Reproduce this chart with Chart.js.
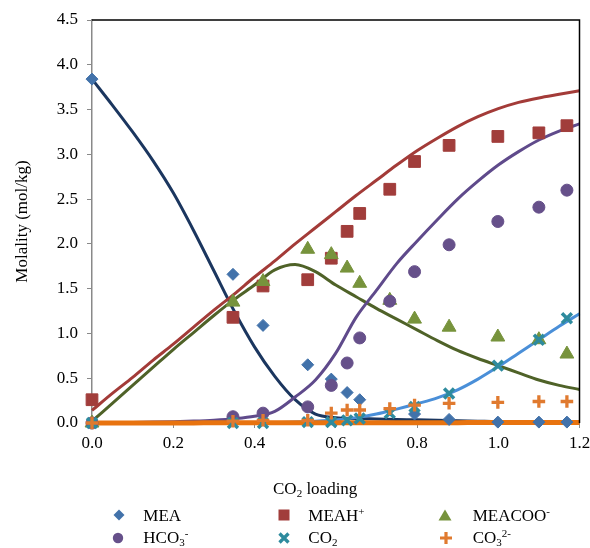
<!DOCTYPE html>
<html><head><meta charset="utf-8">
<script src="https://cdn.jsdelivr.net/npm/chart.js@4.4.0/dist/chart.umd.min.js"></script>
<style>
html,body{margin:0;padding:0;background:#fff;}
#wrap{position:relative;width:590px;height:548px;overflow:hidden;font-family:"Liberation Serif","Times New Roman",serif;color:#000;}
canvas{position:absolute;left:0;top:0;}
.t{position:absolute;font-size:17px;line-height:17px;white-space:nowrap;}
.t sub{font-size:11px;vertical-align:-3px;line-height:0;}
.t sup{font-size:11px;vertical-align:6px;line-height:0;}
.m{position:absolute;}
</style></head><body>
<div id="wrap"><canvas id="c" width="590" height="548"></canvas>
<div class="t" style="left:273px;top:479.8px">CO<sub>2</sub> loading</div>
<div id="legend"></div>
</div>
<script>
// ---- data ----
const loadingExp = [0, 0.347, 0.421, 0.531, 0.589, 0.628, 0.659, 0.733, 0.794, 0.879, 0.999, 1.100, 1.169];
const meaExp    = [3.84, 1.66, 1.09, 0.65, 0.49, 0.34, 0.26, null, 0.10, 0.04, 0.01, 0.01, 0.01];
const meahExp   = [0.26, 1.18, 1.53, 1.60, 1.84, 2.14, 2.34, 2.61, 2.92, 3.10, 3.20, 3.24, 3.32];
const meacooExp = [0.00, 1.35, 1.58, 1.94, 1.88, 1.73, 1.56, 1.37, 1.16, 1.07, 0.96, 0.93, 0.77];
const hco3Exp   = [0.00, 0.07, 0.11, 0.18, 0.42, 0.67, 0.95, 1.36, 1.69, 1.99, 2.25, 2.41, 2.60];
const co2Exp    = [0.00, 0.00, 0.00, 0.01, 0.01, 0.03, 0.05, 0.11, 0.18, 0.33, 0.64, 0.93, 1.17];
const co3Exp    = [0.00, 0.02, 0.03, 0.03, 0.11, 0.145, 0.145, 0.16, 0.20, 0.22, 0.23, 0.24, 0.24];

const loadingModel = [0,0.05,0.1,0.15,0.2,0.25,0.3,0.35,0.4,0.45,0.5,0.55,0.6,0.65,0.7,0.75,0.8,0.85,0.9,0.95,1.0,1.05,1.1,1.15,1.2];
const meaModel    = [3.84,3.55,3.25,2.93,2.57,2.15,1.70,1.25,0.85,0.52,0.26,0.10,0.06,0.05,0.045,0.04,0.035,0.03,0.025,0.02,0.015,0.012,0.01,0.007,0.005];
const meahModel   = [0.14,0.33,0.51,0.70,0.88,1.07,1.26,1.44,1.63,1.81,2.00,2.18,2.36,2.54,2.71,2.88,3.04,3.18,3.31,3.42,3.51,3.58,3.63,3.67,3.71];
const meacooModel = [0.02,0.22,0.42,0.62,0.82,1.01,1.20,1.38,1.54,1.71,1.77,1.69,1.54,1.41,1.28,1.16,1.04,0.92,0.81,0.72,0.64,0.56,0.48,0.42,0.375];
const hco3Model   = [0,0.003,0.006,0.01,0.015,0.022,0.032,0.048,0.075,0.13,0.29,0.48,0.78,1.18,1.48,1.78,2.03,2.27,2.50,2.70,2.88,3.03,3.16,3.26,3.34];
const co2Model    = [0,0,0,0,0,0,0,0,0,0.005,0.01,0.02,0.035,0.06,0.10,0.155,0.215,0.28,0.37,0.49,0.63,0.78,0.93,1.08,1.22];
const co3Model    = [0,0,0.001,0.001,0.001,0.001,0.002,0.002,0.002,0.002,0.003,0.003,0.003,0.003,0.003,0.004,0.004,0.004,0.004,0.005,0.005,0.005,0.005,0.006,0.006];

const yTicks = [0,0.5,1,1.5,2,2.5,3,3.5,4,4.5];
const xTicks = [0,0.2,0.4,0.6,0.8,1.0,1.2];

const seriesNames = ['MEA','MEAH<sup>+</sup>','MEACOO<sup>-</sup>','HCO<sub>3</sub><sup>-</sup>','CO<sub>2</sub>','CO<sub>3</sub><sup>2-</sup>'];
const seriesPlain = ['MEA','MEAH+','MEACOO-','HCO3-','CO2','CO3 2-'];
const markerColors = ['#4272AA','#A13D3B','#77933C','#66508A','#2E8B9E','#E07A2F'];
const lineColors   = ['#1B365F','#A33B38','#4F6228','#5F4A8B','#4A8FD8','#E8730F'];

function pts(xs, ys){ const o=[]; xs.forEach((x,i)=>{ if(ys[i]!==null) o.push({x:x,y:ys[i]}); }); return o; }

const expSeries = [meaExp, meahExp, meacooExp, hco3Exp, co2Exp, co3Exp];
const modelSeries = [meaModel, meahModel, meacooModel, hco3Model, co2Model, co3Model];
const pStyles = ['rectRot','rect','triangle','circle','crossRot','cross'];
const pRadius = [6, 8.3, 8, 6, 7, 6.3];
const pBorder = [1, 1, 1, 1, 3.5, 3.3];
const lWidth = [3, 3, 3, 3, 3, 5];

const datasets = [];
for (let i=0;i<6;i++){
  datasets.push({
    label: seriesPlain[i]+' model', data: pts(loadingModel, modelSeries[i]),
    showLine:true, borderColor: lineColors[i], borderWidth: lWidth[i], pointRadius:0, pointHoverRadius:0,
    fill:false, cubicInterpolationMode:'monotone', order: 11-i, clip:false
  });
}
for (let i=0;i<6;i++){
  datasets.push({
    label: seriesPlain[i], data: pts(loadingExp, expSeries[i]),
    showLine:false, pointStyle: pStyles[i], pointRadius: pRadius[i], pointHoverRadius: pRadius[i],
    pointBackgroundColor: markerColors[i], pointBorderColor: markerColors[i], pointBorderWidth: pBorder[i],
    order: 5-i, clip:false
  });
}

const frame = { id:'frame', afterDatasetsDraw(chart){
  const {ctx, chartArea:a} = chart; ctx.save(); ctx.strokeStyle='#000'; ctx.lineWidth=1.5;
  ctx.beginPath(); ctx.moveTo(a.left, a.top); ctx.lineTo(a.right, a.top); ctx.lineTo(a.right, a.bottom); ctx.stroke(); ctx.restore(); } };

const font = {family:'"Liberation Serif","Times New Roman",serif', size:17};
new Chart(document.getElementById('c'), {
  type:'scatter',
  data:{datasets},
  options:{
    responsive:false, animation:false, devicePixelRatio:1,
    layout:{padding:{top:20,right:10.5,left:0,bottom:0}},
    plugins:{legend:{display:false}, tooltip:{enabled:false}},
    scales:{
      x:{type:'linear', min:0, max:1.2,
        afterBuildTicks(s){ s.ticks = xTicks.map(v=>({value:v})); },
        afterFit(s){ s.height = 125; s.paddingLeft = 0; s.paddingRight = 0; },
        ticks:{font, color:'#000', padding:5, maxRotation:0, callback:v=>Number(v).toFixed(1)},
        grid:{display:true, drawOnChartArea:false, drawTicks:true, tickLength:5, tickColor:'#898989'},
        border:{display:true, color:'#898989', width:1.5}},
      y:{type:'linear', min:0, max:4.5,
        afterBuildTicks(s){ s.ticks = yTicks.map(v=>({value:v})); },
        afterFit(s){ s.width = 92; s.paddingTop = 0; s.paddingBottom = 0; },
        ticks:{font, color:'#000', padding:9, callback:v=>Number(v).toFixed(1)},
        title:{display:true, text:'Molality (mol/kg)', font, color:'#000', padding:{top:12,bottom:0}},
        grid:{display:true, drawOnChartArea:false, drawTicks:true, tickLength:5, tickColor:'#898989'},
        border:{display:true, color:'#898989', width:1.5}}
    }
  },
  plugins:[frame]
});

// ---- legend (HTML so sub/superscripts render) ----
const legPos = [[118.5,515,143.3],[283.7,515,308.3],[445,515,472.7],[118,537.5,143.3],[284,537.5,308.3],[445.5,537.5,472.7]];
function markerSvg(i){
  const c = markerColors[i];
  switch(i){
    case 0: return `<svg width="14" height="14"><polygon points="7,1.5 12.5,7 7,12.5 1.5,7" fill="${c}"/></svg>`;
    case 1: return `<svg width="14" height="14"><rect x="1.5" y="1.5" width="11" height="11" fill="${c}"/></svg>`;
    case 2: return `<svg width="14" height="14"><polygon points="7,1.6 13.5,12.4 0.5,12.4" fill="${c}"/></svg>`;
    case 3: return `<svg width="14" height="14"><circle cx="7" cy="7" r="5.2" fill="${c}"/></svg>`;
    case 4: return `<svg width="14" height="14"><path d="M2.5,2.5 L11.5,11.5 M11.5,2.5 L2.5,11.5" stroke="${c}" stroke-width="3.3"/></svg>`;
    case 5: return `<svg width="14" height="14"><path d="M7,1 L7,13 M1,7 L13,7" stroke="${c}" stroke-width="3.2"/></svg>`;
  }
}
const leg = document.getElementById('legend');
legPos.forEach((p,i)=>{
  const m = document.createElement('div'); m.className='m';
  m.style.left=(p[0]-7)+'px'; m.style.top=(p[1]-7)+'px'; m.innerHTML = markerSvg(i); leg.appendChild(m);
  const t = document.createElement('div'); t.className='t';
  t.style.left=p[2]+'px'; t.style.top=(p[1]+6-14.25)+'px'; t.innerHTML = seriesNames[i]; leg.appendChild(t);
});
</script>
</body></html>
